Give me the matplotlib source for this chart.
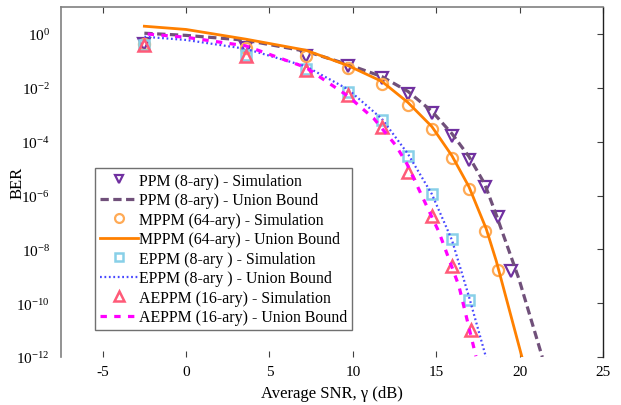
import numpy as np
import matplotlib
matplotlib.use("Agg")
import matplotlib.pyplot as plt

plt.rcParams['font.family'] = ['Liberation Serif', 'DejaVu Serif']
plt.rcParams['mathtext.fontset'] = 'custom'
plt.rcParams['mathtext.rm'] = 'Liberation Serif'
plt.rcParams['mathtext.it'] = 'Liberation Serif:italic'
plt.rcParams['axes.unicode_minus'] = False

# simulation SNR points (dB)
snr_sim = [-2.5, 3.58, 7.18, 9.7, 11.74, 13.3, 14.74, 15.94, 16.96, 17.95, 18.7, 19.5]

# simulated BER, log10 values
ppm_sim = [-0.38, -0.53, -0.83, -1.17, -1.65, -2.21, -2.95, -3.77, -4.67, -5.67, -6.79, -8.8]
mppm_sim = [-0.38, -0.53, -0.83, -1.28, -1.85, -2.62, -3.51, -4.59, -5.75, -7.31, -8.76]
eppm_sim = [-0.42, -0.79, -1.31, -2.17, -3.21, -4.52, -5.93, -7.61, -9.88]
aeppm_sim = [-0.42, -0.83, -1.35, -2.25, -3.44, -5.11, -6.75, -8.61, -11.0]

# union bounds (dB, log10 BER)
ppm_ub_x = [-2.5, 0.0, 3.58, 7.18, 9.7, 11.74, 13.3, 14.74, 15.94, 16.96, 17.9, 18.6, 19.96, 21.36]
ppm_ub_y = [0.03, -0.05, -0.23, -0.64, -1.13, -1.58, -2.13, -2.87, -3.70, -4.55, -5.56, -6.72, -9.1, -12.0]

mppm_ub_x = [-2.5, 0.0, 3.58, 7.18, 9.7, 11.74, 13.3, 14.74, 15.94, 16.96, 18.0, 18.6, 20.14]
mppm_ub_y = [0.29, 0.17, -0.19, -0.60, -1.17, -1.76, -2.54, -3.44, -4.52, -5.67, -7.24, -8.43, -12.0]

eppm_ub_x = [-2.5, 0.0, 3.58, 7.18, 9.7, 11.74, 13.3, 14.74, 15.94, 16.96, 17.98]
eppm_ub_y = [-0.1, -0.22, -0.55, -1.2, -2.05, -3.15, -4.45, -5.95, -7.65, -9.75, -12.0]

aeppm_ub_x = [-2.3, 0.0, 3.58, 7.18, 9.7, 11.26, 12.58, 13.24, 14.14, 15.16, 16.36, 17.38]
aeppm_ub_y = [0.0, -0.12, -0.44, -1.24, -2.3, -3.14, -4.14, -4.82, -6.01, -7.35, -9.36, -11.97]

fig = plt.figure(figsize=(6.21, 4.06), dpi=100)
ax = fig.add_axes([0.0982, 0.1182, 0.8728, 0.8618])


def ber(v):
    return 10.0 ** np.array(v)


ax.plot(snr_sim[:len(ppm_sim)], ber(ppm_sim), ls='none', marker='v', ms=8, mfc='none',
        mec='#7030a0', mew=1.6, label='PPM (8-ary) - Simulation')
ax.plot(ppm_ub_x, ber(ppm_ub_y), color='#70507a', lw=2.3, dashes=(2.6, 1.4),
        label='PPM (8-ary) - Union Bound')
ax.plot(snr_sim[:len(mppm_sim)], ber(mppm_sim), ls='none', marker='o', ms=8, mfc='none',
        mec='#ffaa55', mew=1.6, label='MPPM (64-ary) - Simulation')
ax.plot(mppm_ub_x, ber(mppm_ub_y), color='#ff8000', lw=2.0,
        label='MPPM (64-ary) - Union Bound')
ax.plot(snr_sim[:len(eppm_sim)], ber(eppm_sim), ls='none', marker='s', ms=7.5, mfc='none',
        mec='#88d0e8', mew=1.8, label='EPPM (8-ary ) - Simulation')
ax.plot(eppm_ub_x, ber(eppm_ub_y), color='#4848ff', lw=1.6, dashes=(0.8, 1.2),
        label='EPPM (8-ary ) - Union Bound')
aeppm_x = snr_sim[:len(aeppm_sim) - 1] + [17.1]
ax.plot(aeppm_x, ber(aeppm_sim), ls='none', marker='^', ms=8.5, mfc='none',
        mec='#ff5a78', mew=1.8, label='AEPPM (16-ary) - Simulation')
ax.plot(aeppm_ub_x, ber(aeppm_ub_y), color='#ff00ff', lw=2.3, dashes=(2.0, 2.3),
        label='AEPPM (16-ary) - Union Bound')

ax.set_yscale('log')
ax.set_xlim(-7.5, 25)
ax.set_ylim(1e-12, 1e1)
ax.set_xticks([-5, 0, 5, 10, 15, 20, 25])
ax.set_yticks([10.0 ** k for k in range(-12, 1, 2)])
ax.yaxis.set_minor_locator(matplotlib.ticker.NullLocator())
ax.tick_params(axis='both', direction='in', length=4, width=0.8, color='#404040',
               labelsize=11, top=True, right=True, left=False)
ax.tick_params(axis='x', pad=6)
ax.tick_params(axis='y', pad=8)

ax.spines['bottom'].set_visible(False)
for s in ['left', 'top']:
    ax.spines[s].set_color('#808080')
    ax.spines[s].set_linewidth(1.2)
ax.spines['right'].set_color('#202020')
ax.spines['right'].set_linewidth(1.0)

ax.set_xlabel('Average SNR, γ (dB)', fontsize=12, labelpad=5)
ax.set_ylabel('BER', fontsize=12)
ax.yaxis.set_label_coords(-0.066, 0.5)

leg = ax.legend(loc='lower left', bbox_to_anchor=(0.063, 0.077), fontsize=11.4,
                frameon=True, fancybox=False, edgecolor='#707070', framealpha=1,
                handlelength=2.4, handletextpad=0.1, labelspacing=0.22,
                borderpad=0.3, borderaxespad=0, markerscale=0.8)
leg.get_frame().set_linewidth(1.0)

fig.savefig('out.png', dpi=100)
